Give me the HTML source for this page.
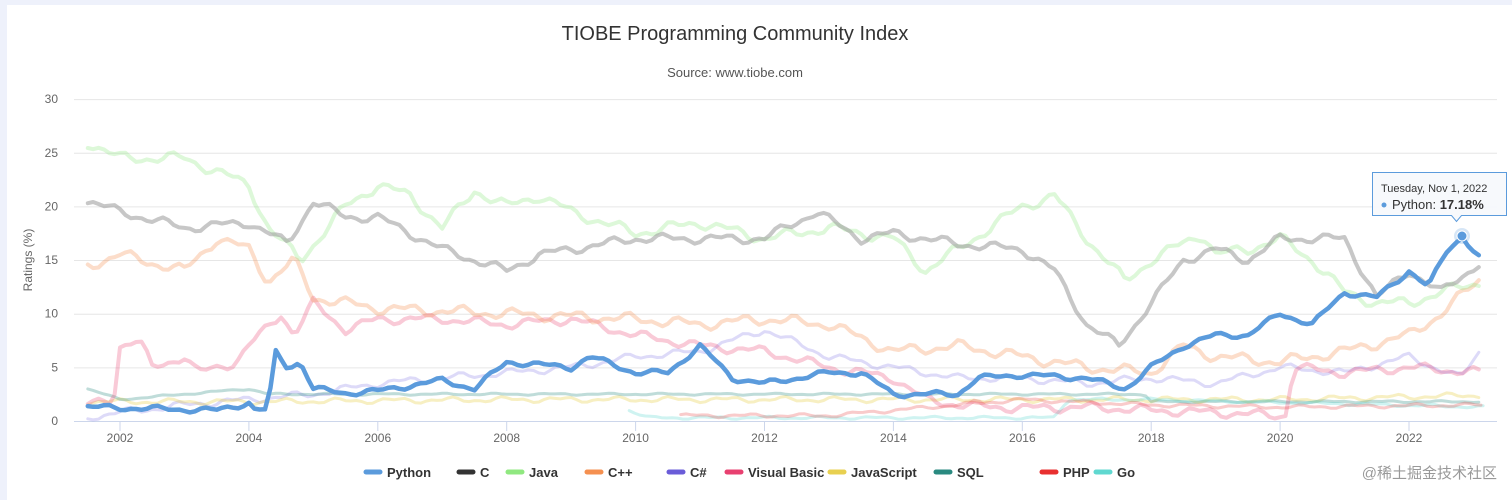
<!DOCTYPE html>
<html><head><meta charset="utf-8"><style>
html,body{margin:0;padding:0;background:#fff;}
body{width:1512px;height:500px;overflow:hidden;position:relative;font-family:"Liberation Sans","Noto Sans CJK SC",sans-serif;}
#lb{position:absolute;left:0;top:0;width:7px;height:500px;background:#eef1fb;}
#tb{position:absolute;left:0;top:0;width:1512px;height:5px;background:#eef1fb;}
</style></head><body>
<div id="lb"></div><div id="tb"></div>
<svg id="s" width="1512" height="500" style="position:absolute;left:0;top:0" font-family="Liberation Sans, sans-serif">
<text x="735" y="40" text-anchor="middle" font-size="20" fill="#333">TIOBE Programming Community Index</text>
<text x="735" y="77" text-anchor="middle" font-size="13" fill="#555">Source: www.tiobe.com</text>
<g id="grid" stroke="#e6e6e6" stroke-width="1"></g>
<g id="yl" font-size="12" fill="#666" text-anchor="end"></g>
<text transform="translate(32,260) rotate(-90)" text-anchor="middle" font-size="12" fill="#666">Ratings (%)</text>
<g id="xl" font-size="12" fill="#666" text-anchor="middle"></g>
<g id="lines" fill="none" stroke-linejoin="round" stroke-linecap="round"></g>
<g id="tip">
<circle cx="1462" cy="236" r="8" fill="#5b9bdc" fill-opacity="0.25"/>
<circle cx="1462" cy="236" r="5" fill="#5b9bdc" stroke="#fff" stroke-width="1"/>
<path d="M1372.5,172.5 h134 v43 h-45 l-5,6 l-5,-6 h-79 z" fill="#f7f9fc" fill-opacity="0.95" stroke="#5b9bdc" stroke-width="1"/>
<text x="1381" y="192" font-size="11" fill="#333">Tuesday, Nov 1, 2022</text>
<circle cx="1384" cy="205" r="2.5" fill="#5b9bdc"/>
<text x="1392" y="209" font-size="13" fill="#333">Python: <tspan font-weight="bold">17.18%</tspan></text>
</g>
<g id="leg" font-size="13" font-weight="bold" fill="#333"></g>
<text x="1497" y="478" text-anchor="end" font-size="15" fill="#999" font-family="Liberation Sans, Noto Sans CJK SC, sans-serif">@稀土掘金技术社区</text>
</svg>
<script>
var NS="http://www.w3.org/2000/svg";
function el(t,a,p,txt){var e=document.createElementNS(NS,t);for(var k in a)e.setAttribute(k,a[k]);if(txt)e.textContent=txt;document.getElementById(p).appendChild(e);return e;}
function X(y){return 120+(y-2002)*64.45;}
function Y(v){return 421-v*10.73;}
for(var i=0;i<=6;i++){var yy=Y(i*5);el('line',{x1:74,x2:1497,y1:yy+0.5,y2:yy+0.5,stroke:i==0?'#ccd6eb':'#e6e6e6'},'grid');el('text',{x:58,y:yy+4},'yl',String(i*5));}
for(var y=2002;y<=2022;y+=2){var xx=X(y);el('line',{x1:xx,x2:xx,y1:421,y2:431,stroke:'#ccd6eb'},'grid');el('text',{x:xx,y:442},'xl',String(y));}
function series(kp,amp,seed,color,w,op){
  var pts=[];var t0=kp[0][0],t1=kp[kp.length-1][0];
  for(var t=t0;t<=t1+1e-9;t+=1/12){
    var j=0;while(j<kp.length-2&&kp[j+1][0]<t)j++;
    var a=kp[j],b=kp[j+1];var f=(t-a[0])/(b[0]-a[0]);if(f<0)f=0;if(f>1)f=1;
    var v=a[1]+(b[1]-a[1])*f;
    v+=amp*(Math.sin(t*7.3+seed)*0.6+Math.sin(t*17.1+seed*2)*0.4);
    if(v<0.1)v=0.1;
    pts.push(X(t).toFixed(1)+','+Y(v).toFixed(1));
  }
  el('polyline',{points:pts.join(' '),stroke:color,'stroke-width':w,'stroke-opacity':op},'lines');
}
series([[2001.5,0.3],[2002,0.8],[2003,1.5],[2004,2],[2005,2.5],[2006,3.5],[2007,4],[2008,4.5],[2009,5],[2010,6],[2011,6.5],[2012,8.5],[2013,6],[2014,5],[2015,4],[2016,4],[2017,3.5],[2018,4],[2019,3.5],[2020,5],[2021,4.5],[2022,6],[2022.8,4],[2023.15,7]],0.4,1,'#8f86e8',3,0.3);
series([[2001.5,1.8],[2004,1.8],[2008,2],[2012,2],[2016,2],[2020,2],[2023.15,2.4]],0.3,2,'#e8d050',3,0.35);
series([[2001.5,3],[2002,2],[2004,3],[2004.3,2.5],[2017.9,2.5],[2018,1.8],[2023.15,1.8]],0.1,3,'#2a8a80',3,0.3);
series([[2009.9,1],[2010.2,0.3],[2016.5,0.3],[2016.7,2],[2018,2],[2023.15,1.3]],0.15,4,'#60d8d0',3,0.3);
series([[2001.5,1.5],[2001.9,2],[2002,7],[2002.3,7.5],[2002.5,5],[2003,6],[2003.2,4.5],[2003.8,5.5],[2004,7],[2004.5,10],[2004.7,8],[2005,11],[2005.5,8.5],[2006,9.5],[2007,9.5],[2008,9],[2009,9.5],[2010,8],[2011,7],[2012,6.5],[2013,5],[2014,4],[2014.5,2],[2015,1.5],[2016,1.2],[2017,1.3],[2018,1],[2019,0.8],[2020,0.5],[2020.1,0.6],[2020.2,5],[2021,4.5],[2022,5],[2023.15,4.5]],0.5,5,'#e84070',4,0.28);
series([[2010.7,0.5],[2013,0.5],[2016,2],[2018,1.5],[2020,1.3],[2023.15,1.5]],0.2,6,'#e83030',3,0.25);
series([[2001.5,14.5],[2002,15.5],[2003,14],[2003.5,17],[2004,16],[2004.3,13],[2004.7,15],[2005,11.5],[2006,10.5],[2008,10],[2010,9.5],[2011,9],[2012,9.5],[2013,9],[2014,6.5],[2015,7],[2016,6],[2017,5],[2018,4.5],[2018.5,7],[2019,6],[2020,5.5],[2021,6.5],[2022,8],[2022.5,10],[2023.15,13.5]],0.6,7,'#f59050',4,0.3);
series([[2001.5,26],[2002,24.5],[2003,24.5],[2004,22],[2004.3,18],[2004.8,15],[2005.5,20],[2006,22],[2006.5,21],[2007,18],[2007.5,21.5],[2008,20],[2008.5,21],[2009,19.5],[2010,17.5],[2011,18.5],[2012,17],[2013,18],[2014,17],[2014.5,14],[2015,16],[2016,20],[2016.5,21],[2017,17],[2017.6,13],[2018,15],[2018.8,17.5],[2019,15.5],[2019.5,16],[2020,17],[2020.5,15],[2021,12],[2021.5,11],[2022,11],[2022.5,12],[2023.15,13]],0.6,8,'#90e880',4,0.3);
series([[2001.5,20.5],[2002,19.5],[2003,18],[2004,18.5],[2004.6,16.5],[2005,20.5],[2005.5,19],[2006,19],[2007,16],[2008,14],[2008.5,15.5],[2010,17],[2011,17],[2012,17],[2012.8,19.5],[2013.5,17],[2014,17.5],[2015,16.5],[2016,16],[2016.5,14],[2017,9],[2017.5,7],[2018,11],[2018.5,15],[2019,16],[2019.5,15],[2020,17],[2021,17],[2021.5,11.5],[2022,14],[2022.5,12],[2023.15,15]],0.5,9,'#999',4,0.55);
series([[2001.5,1.3],[2003.5,1.0],[2004,1.7],[2004.05,1.1],[2004.3,1.0],[2004.4,6.5],[2004.6,5],[2004.8,5.5],[2005,3],[2005.5,2.6],[2006,2.8],[2007,3.8],[2007.5,3],[2008,5.5],[2009,5],[2009.3,6],[2010,4.5],[2010.5,4.5],[2011,7],[2011.5,4],[2012,3.5],[2013,4.5],[2013.5,4.5],[2014,2.5],[2015,2.5],[2015.3,4],[2016,4.3],[2017,4],[2017.6,3],[2018,5],[2018.5,7],[2019,8],[2019.5,8],[2020,10],[2020.5,9],[2021,12],[2021.5,11.5],[2022,14],[2022.3,12.5],[2022.6,16],[2022.83,17.18],[2023.15,14.8]],0.3,10,'#5b9bdc',4.5,1);
var L=[['Python',387,'#5b9bdc'],['C',480,'#333'],['Java',529,'#90e880'],['C++',608,'#f59050'],['C#',690,'#6a5cd8'],['Visual Basic',748,'#e84070'],['JavaScript',851,'#e8d050'],['SQL',957,'#2a8a80'],['PHP',1063,'#e83030'],['Go',1117,'#60d8d0']];
L.forEach(function(l){el('line',{x1:l[1]-21,x2:l[1]-7,y1:472,y2:472,stroke:l[2],'stroke-width':5,'stroke-linecap':'round'},'leg');el('text',{x:l[1],y:477},'leg',l[0]);});
</script>
</body></html>
